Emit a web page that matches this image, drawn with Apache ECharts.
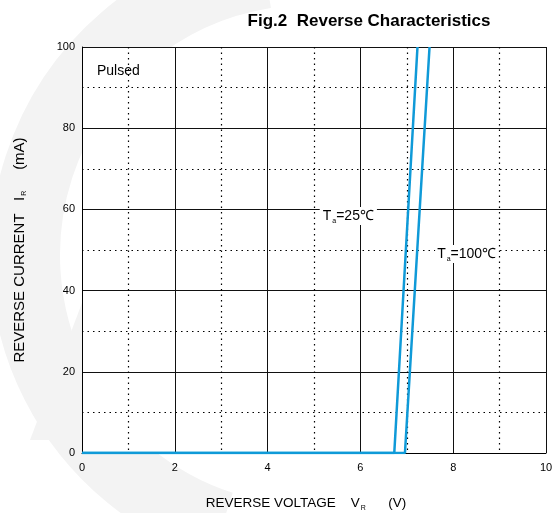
<!DOCTYPE html>
<html>
<head>
<meta charset="utf-8">
<script src="https://cdn.jsdelivr.net/npm/echarts@6.0.0/dist/echarts.min.js"></script>
<style>
  html, body { margin: 0; padding: 0; background: #fff; }
  #chart { width: 557px; height: 513px; }
</style>
</head>
<body>
<div id="chart"></div>
<script>
// reverse voltage (V) vs reverse current (mA)
const ta25 = [[0, 0], [6.73, 0], [7.23, 100]];
const ta100 = [[0, 0], [6.96, 0], [7.49, 100]];
const xTicks = [0, 2, 4, 6, 8, 10];
const yTicks = [0, 20, 40, 60, 80, 100];

const font = '"Liberation Sans", Arial, sans-serif';
const lineColor = '#0f9ad8';
const wm = '#f3f3f3';

const chart = echarts.init(document.getElementById('chart'));

const sub = { fontSize: 7, padding: [10, 0, 0, 1], fontFamily: font, color: '#000' };

chart.setOption({
  animation: false,
  title: {
    text: 'Fig.2  Reverse Characteristics',
    left: 364, top: 8, textAlign: 'center',
    textStyle: { fontFamily: font, fontSize: 17, fontWeight: 'bold', color: '#000' }
  },
  grid: {
    left: 82, right: 11, top: 47, bottom: 60,
    outerBoundsMode: 'none',
    show: true, backgroundColor: '#fff', borderWidth: 0
  },
  xAxis: {
    type: 'value', min: xTicks[0], max: xTicks[xTicks.length - 1], interval: 2,
    name: 'REVERSE VOLTAGE    V{s|R}      (V)',
    nameLocation: 'middle', nameGap: 42,
    nameTextStyle: { fontFamily: font, fontSize: 13.5, color: '#000', rich: { s: sub }, padding: [0, 16, 0, 0] },
    axisLine: { lineStyle: { color: '#000', width: 1 } },
    axisTick: { show: false },
    axisLabel: { fontFamily: font, fontSize: 11, color: '#000', margin: 9 },
    splitLine: { lineStyle: { color: '#111', width: 1 } },
    minorTick: { show: false, splitNumber: 2 },
    minorSplitLine: { show: true, lineStyle: { color: '#000', type: [1.5, 4], width: 1.2 } }
  },
  yAxis: {
    type: 'value', min: yTicks[0], max: yTicks[yTicks.length - 1], interval: 20,
    name: 'REVERSE CURRENT   I{s|R}     (mA)',
    nameLocation: 'middle', nameGap: 54, nameRotate: 90,
    nameTextStyle: { fontFamily: font, fontSize: 15, color: '#000', rich: { s: sub } },
    axisLine: { show: true, lineStyle: { color: '#000', width: 1 } },
    axisTick: { show: false },
    axisLabel: { fontFamily: font, fontSize: 11, color: '#000', margin: 7 },
    splitLine: { lineStyle: { color: '#111', width: 1 } },
    minorTick: { show: false, splitNumber: 2 },
    minorSplitLine: { show: true, lineStyle: { color: '#000', type: [1.5, 4], width: 1.2 } }
  },
  series: [
    {
      name: 'Ta=25', type: 'line', data: ta25, symbol: 'none',
      lineStyle: { color: lineColor, width: 2.5 },
      markPoint: {
        symbol: 'circle', symbolSize: 0,
        label: {
          show: true, position: 'inside',
          formatter: 'T{s|a}=25℃',
          fontFamily: font, fontSize: 14, color: '#000',
          backgroundColor: '#fff', padding: [1, 3, 0, 3],
          rich: { s: sub }
        },
        data: [{ coord: [5.74, 58.4] }]
      }
    },
    {
      name: 'Ta=100', type: 'line', data: ta100, symbol: 'none',
      lineStyle: { color: lineColor, width: 2.5 },
      markPoint: {
        symbol: 'circle', symbolSize: 0,
        label: {
          show: true, position: 'inside',
          formatter: 'T{s|a}=100℃',
          fontFamily: font, fontSize: 14, color: '#000',
          backgroundColor: '#fff', padding: [1, 2, 0, 2],
          rich: { s: sub }
        },
        data: [{ coord: [8.29, 49.0] }]
      }
    }
  ],
  graphic: [
    // faint logo watermark behind the plot
    {
      type: 'arc', z: -10, silent: true,
      shape: { cx: 310, cy: 255, r: 285, startAngle: Math.PI * 0.6, endAngle: Math.PI * 1.45 },
      style: { stroke: wm, lineWidth: 70, fill: null }
    },
    {
      type: 'polygon', z: -10, silent: true,
      shape: { points: [[140, 150], [205, 150], [95, 440], [30, 440]] },
      style: { fill: wm }
    },
    {
      type: 'text', left: 97, top: 64, z: 10,
      style: { text: 'Pulsed', font: '14px ' + font, fill: '#000' }
    }
  ]
});
</script>
</body>
</html>
